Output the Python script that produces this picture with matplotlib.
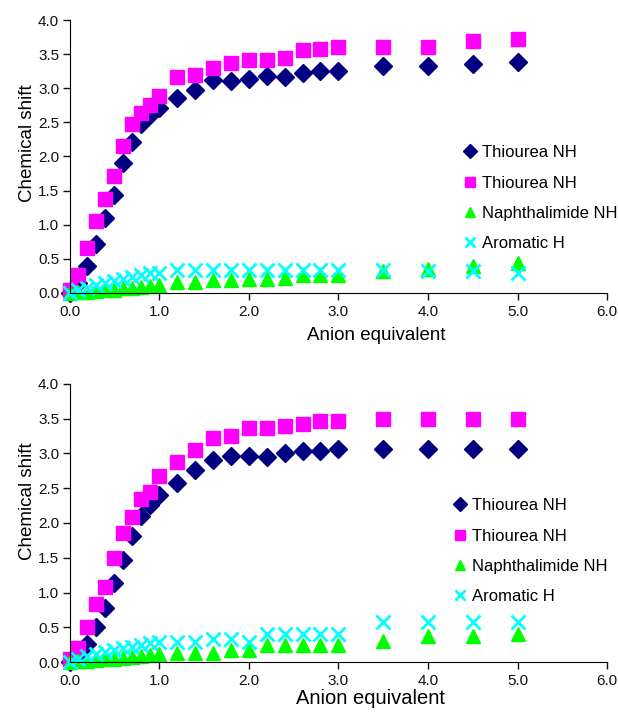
import matplotlib.pyplot as plt
from matplotlib.ticker import FormatStrFormatter, MultipleLocator

plt.rcParams['font.family'] = ['Liberation Sans', 'DejaVu Sans']

# anion equivalents added
equiv = [0.0, 0.1, 0.2, 0.3, 0.4, 0.5, 0.6, 0.7, 0.8, 0.9, 1.0,
         1.2, 1.4, 1.6, 1.8, 2.0, 2.2, 2.4, 2.6, 2.8, 3.0,
         3.5, 4.0, 4.5, 5.0]

# top panel
top_thio1 = [0.00, 0.15, 0.39, 0.72, 1.10, 1.44, 1.90, 2.21, 2.47, 2.61, 2.71,
             2.86, 2.98, 3.12, 3.11, 3.14, 3.18, 3.17, 3.23, 3.25, 3.25,
             3.32, 3.32, 3.36, 3.39]
top_thio2 = [0.05, 0.27, 0.66, 1.05, 1.37, 1.71, 2.16, 2.47, 2.64, 2.76, 2.88,
             3.16, 3.20, 3.30, 3.37, 3.41, 3.41, 3.44, 3.56, 3.58, 3.61,
             3.61, 3.61, 3.69, 3.72]
top_naph = [0.00, 0.01, 0.02, 0.03, 0.04, 0.05, 0.07, 0.08, 0.09, 0.10, 0.12,
            0.16, 0.16, 0.19, 0.19, 0.21, 0.21, 0.22, 0.26, 0.26, 0.26,
            0.32, 0.35, 0.39, 0.44]
top_arom = [0.00, 0.04, 0.08, 0.11, 0.15, 0.18, 0.20, 0.24, 0.27, 0.29, 0.30,
            0.33, 0.33, 0.33, 0.33, 0.33, 0.33, 0.33, 0.33, 0.33, 0.33,
            0.33, 0.32, 0.32, 0.30]

# bottom panel
bot_thio1 = [0.00, 0.10, 0.26, 0.50, 0.78, 1.13, 1.47, 1.82, 2.10, 2.26, 2.40,
             2.58, 2.76, 2.90, 2.96, 2.96, 2.95, 3.00, 3.03, 3.04, 3.07,
             3.07, 3.07, 3.07, 3.07]
bot_thio2 = [0.05, 0.20, 0.51, 0.83, 1.08, 1.49, 1.85, 2.09, 2.35, 2.45, 2.67,
             2.88, 3.05, 3.23, 3.25, 3.36, 3.36, 3.39, 3.43, 3.47, 3.47,
             3.50, 3.50, 3.50, 3.50]
bot_naph = [0.00, 0.01, 0.02, 0.03, 0.04, 0.05, 0.06, 0.07, 0.09, 0.10, 0.12,
            0.13, 0.13, 0.13, 0.18, 0.18, 0.24, 0.24, 0.24, 0.24, 0.24,
            0.30, 0.37, 0.37, 0.41]
bot_arom = [0.00, 0.04, 0.08, 0.11, 0.14, 0.17, 0.20, 0.22, 0.25, 0.27, 0.29,
            0.29, 0.29, 0.33, 0.33, 0.29, 0.41, 0.41, 0.41, 0.41, 0.41,
            0.58, 0.58, 0.58, 0.58]

labels = ['Thiourea NH', 'Thiourea NH', 'Naphthalimide NH', 'Aromatic H']
styles = [dict(marker='D', color='#000080', ms=9.5),
          dict(marker='s', color='#FF00FF', ms=9.5),
          dict(marker='^', color='#00FF00', ms=10.5),
          dict(marker='x', color='#00FFFF', ms=10, mew=2)]

fig = plt.figure(figsize=(6.18, 7.12), dpi=100)
ax1 = fig.add_axes([0.1125, 0.5885, 0.870, 0.3834])
ax2 = fig.add_axes([0.1125, 0.0702, 0.870, 0.3905])

# axes, data, legend anchor, ylabel y, xlabel (x, y), xlabel size
panels = [(ax1, [top_thio1, top_thio2, top_naph, top_arom], (0.730, 0.541), 0.548, (0.570, -0.124), 13.5),
          (ax2, [bot_thio1, bot_thio2, bot_naph, bot_arom], (0.711, 0.589), 0.579, (0.560, -0.097), 14.5)]

for ax, series, leg_pos, ylab_pos, xlab_pos, xlab_size in panels:
    for vals, lab, st in zip(series, labels, styles):
        ax.plot(equiv, vals, linestyle='none', label=lab, clip_on=False, **st)
    ax.set_xlim(0, 6)
    ax.set_ylim(0, 4)
    ax.xaxis.set_major_locator(MultipleLocator(1))
    ax.yaxis.set_major_locator(MultipleLocator(0.5))
    ax.xaxis.set_major_formatter(FormatStrFormatter('%.1f'))
    ax.yaxis.set_major_formatter(FormatStrFormatter('%.1f'))
    ax.spines['top'].set_visible(False)
    ax.spines['right'].set_visible(False)
    ax.tick_params(direction='out', length=5, width=1, labelsize=11, colors='#111111')
    ax.tick_params(axis='x', pad=3.5)
    ax.tick_params(axis='y', pad=2.5)
    ax.set_xlabel('Anion equivalent', fontsize=xlab_size)
    ax.xaxis.set_label_coords(*xlab_pos)
    ax.set_ylabel('Chemical shift', fontsize=13.5)
    ax.yaxis.set_label_coords(-0.062, ylab_pos)
    ax.legend(loc='upper left', bbox_to_anchor=leg_pos, frameon=False, fontsize=12,
              handlelength=1.0, handletextpad=0.22, labelspacing=0.92,
              borderpad=0, borderaxespad=0, markerscale=0.75)

fig.savefig('out.png', dpi=100)
